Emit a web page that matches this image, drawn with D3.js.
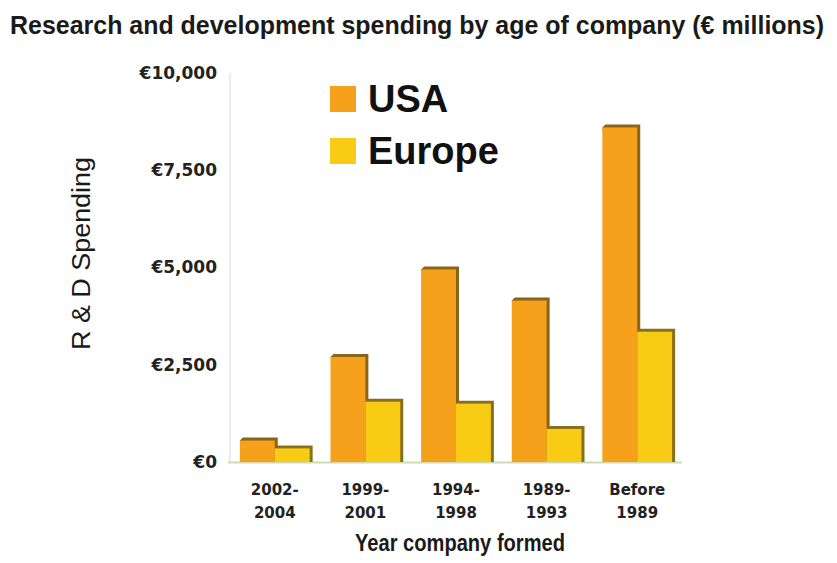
<!DOCTYPE html>
<html>
<head>
<meta charset="utf-8">
<script src="https://cdn.jsdelivr.net/npm/d3@7"></script>
<style>
  html, body { margin: 0; padding: 0; background: #fff; }
  svg { display: block; }
</style>
</head>
<body>
<svg id="chart" width="837" height="563"></svg>
<script>
// Categories (year the company was formed), split over two lines each
const categories = ["2002-2004", "1999-2001", "1994-1998", "1989-1993", "Before 1989"];
const categoryLines = [["2002-", "2004"], ["1999-", "2001"], ["1994-", "1998"], ["1989-", "1993"], ["Before", "1989"]];
const seriesNames = ["USA", "Europe"];
// R&D spending, € millions
const usaValues = [550, 2700, 4950, 4150, 8600];
const europeValues = [350, 1550, 1500, 850, 3350];
const yTicks = [0, 2500, 5000, 7500, 10000];

const colors = { USA: "#F6A11C", Europe: "#F8CB14" };
const sideColors = { USA: "#8A6419", Europe: "#86701C" };

const svg = d3.select("#chart");

const x = d3.scaleBand().domain(categories).range([229, 683]).paddingInner(0.23).paddingOuter(0.12);
const xs = d3.scaleBand().domain(seriesNames).range([0, x.bandwidth()]);
const y = d3.scaleLinear().domain([0, 10000]).range([462, 73]);

const sans = "'Liberation Sans', Arial, sans-serif";

// Title (bold, horizontally condensed)
svg.append("text")
  .attr("x", 10).attr("y", 34)
  .attr("textLength", 814).attr("lengthAdjust", "spacingAndGlyphs")
  .style("font-family", sans)
  .style("font-weight", "bold").style("font-size", "25px").style("fill", "#1a1a1a")
  .text("Research and development spending by age of company (€ millions)");

// Faint vertical axis line
svg.append("line")
  .attr("x1", 230).attr("x2", 230).attr("y1", y(10000)).attr("y2", y(0))
  .attr("stroke", "#e6e6e6").attr("stroke-width", 1.5);

// Y axis labels
const euro = v => "€" + d3.format(",")(v);
const yAxis = d3.axisLeft(y).tickValues(yTicks).tickFormat(euro).tickSize(0).tickPadding(0);
const yg = svg.append("g").attr("transform", "translate(217,0)").call(yAxis);
yg.select(".domain").remove();
yg.selectAll("text")
  .style("font-family", "'DejaVu Sans', sans-serif").style("font-weight", "bold")
  .style("font-size", "17px").style("fill", "#222");

// Baseline
svg.append("line")
  .attr("x1", 228).attr("x2", 682).attr("y1", y(0) + 0.5).attr("y2", y(0) + 0.5)
  .attr("stroke", "#cfdcae").attr("stroke-width", 2);

// Bars with a shallow extruded look
const depth = 3;
const rows = [];
categories.forEach((c, i) => {
  rows.push({ cat: c, series: "USA", value: usaValues[i] });
  rows.push({ cat: c, series: "Europe", value: europeValues[i] });
});
const bars = svg.append("g").selectAll("g").data(rows).join("g");
bars.append("polygon")
  .attr("points", d => {
    const x0 = x(d.cat) + xs(d.series), x1 = x0 + xs.bandwidth();
    const t = y(d.value), b = y(0);
    return [[x0, t], [x0 + depth, t - depth], [x1 + depth, t - depth], [x1 + depth, b], [x1, b]].join(" ");
  })
  .attr("fill", d => sideColors[d.series]);
bars.append("rect")
  .attr("x", d => x(d.cat) + xs(d.series))
  .attr("y", d => y(d.value))
  .attr("width", xs.bandwidth())
  .attr("height", d => y(0) - y(d.value))
  .attr("fill", d => colors[d.series]);

// X category labels
const xl = svg.append("g").selectAll("text").data(categories).join("text")
  .attr("x", d => x(d) + x.bandwidth() / 2)
  .attr("text-anchor", "middle")
  .style("font-family", "'DejaVu Sans', sans-serif").style("font-weight", "bold")
  .style("font-size", "15px").style("fill", "#222");
xl.each(function(d, i) {
  const t = d3.select(this);
  categoryLines[i].forEach((line, k) => {
    t.append("tspan").attr("x", x(d) + x.bandwidth() / 2).attr("y", 495 + k * 23).text(line);
  });
});

// Axis titles
svg.append("text")
  .attr("x", 355).attr("y", 551)
  .attr("textLength", 210).attr("lengthAdjust", "spacingAndGlyphs")
  .style("font-family", sans)
  .style("font-weight", "bold").style("font-size", "23px").style("fill", "#1a1a1a")
  .text("Year company formed");

svg.append("text")
  .attr("transform", "translate(90,350) rotate(-90)")
  .attr("textLength", 193).attr("lengthAdjust", "spacingAndGlyphs")
  .style("font-family", sans)
  .style("font-size", "25px").style("fill", "#1a1a1a")
  .text("R & D Spending");

// Legend
const legend = svg.append("g").selectAll("g").data(seriesNames).join("g")
  .attr("transform", (d, i) => `translate(330,${86 + i * 52})`);
legend.append("rect").attr("width", 26).attr("height", 26).attr("fill", d => colors[d]);
legend.append("text")
  .attr("x", 38).attr("y", 26)
  .style("font-family", sans)
  .style("font-weight", "bold").style("font-size", "38px").style("fill", "#111")
  .text(d => d);
</script>
</body>
</html>
